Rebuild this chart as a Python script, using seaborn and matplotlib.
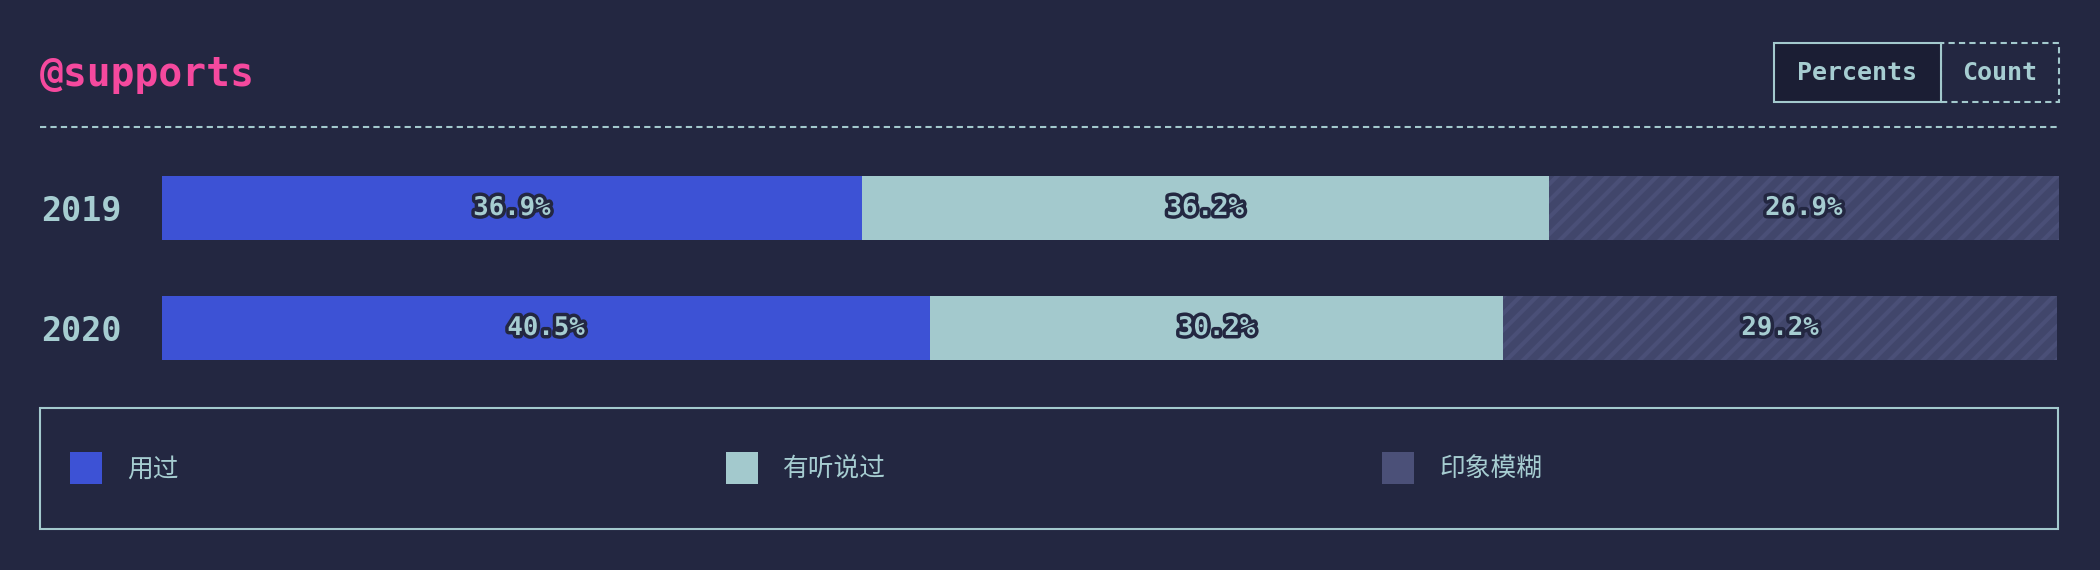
import pandas as pd
import matplotlib.pyplot as plt
import matplotlib.patheffects as pe
from matplotlib.patches import Rectangle
from matplotlib.lines import Line2D
import seaborn as sns

# data
years = ["2019", "2020"]
used = [36.9, 40.5]
heard = [36.2, 30.2]
vague = [26.9, 29.2]
series_names = ["用过", "有听说过", "印象模糊"]
title = "@supports"
buttons = ["Percents", "Count"]

BG = "#232741"
BLUE = "#3d52d5"
TEAL = "#a3c9cd"
GREY = "#41466b"
STRIPE = "#4a4f77"
LEGEND_GREY = "#4b5078"
PINK = "#f5499e"
TEXT = "#a6cdd1"
BTN_BG = "#1b1e34"

W, H = 2100, 570


def fx(px):
    return px / W


def fy(py):
    return 1 - py / H


sns.set_theme(style="white")
plt.rcParams["font.family"] = ["DejaVu Sans Mono", "Noto Sans CJK SC"]
plt.rcParams["hatch.linewidth"] = 3

fig = plt.figure(figsize=(21, 5.7), dpi=100, facecolor=BG)

df = pd.DataFrame({
    "year": years,
    "used": used,
    "heard": heard,
    "vague": vague
})
df["c1"] = df["used"]
df["c2"] = df["c1"] + df["heard"]
df["c3"] = df["c2"] + df["vague"]

ax = fig.add_axes([fx(162), fy(388), fx(2059) - fx(162), 240 / H])
ax.set_facecolor(BG)

# stacked bars: draw cumulative totals, widest first
common = dict(
    y="year",
    orient="h",
    saturation=1,
    width=0.533,
    errorbar=None,
    linewidth=0,
    ax=ax
)
sns.barplot(data=df, x="c3", color=GREY, hatch="//", edgecolor=STRIPE, **common)
sns.barplot(data=df, x="c2", color=TEAL, edgecolor=TEAL, **common)
sns.barplot(data=df, x="c1", color=BLUE, edgecolor=BLUE, **common)

ax.set_xlim(0, 100)
ax.set_xticks([])
ax.set_xlabel("")
ax.set_ylabel("")
sns.despine(ax=ax, left=True, bottom=True)
ax.tick_params(axis="y", length=0, pad=29, labelsize=24, labelcolor=TEXT)
for lbl in ax.get_yticklabels():
    lbl.set_fontweight("bold")

# percentage labels in each segment
stroke = [pe.withStroke(linewidth=5, foreground=BG)]
for i, row in df.iterrows():
    start = 0
    for col in ["used", "heard", "vague"]:
        val = row[col]
        ax.text(
            start + val / 2, i, f"{val:.1f}%",
            ha="center", va="center",
            fontsize=18.5, fontweight="bold",
            color=TEXT, path_effects=stroke
        )
        start += val

# title and divider
fig.text(fx(40), fy(86), title, color=PINK, fontsize=28.5,
         fontweight="bold", va="baseline")
fig.add_artist(Line2D(
    [fx(40), fx(2058)], [fy(127), fy(127)],
    transform=fig.transFigure, color=TEAL, lw=1.5,
    linestyle=(0, (3, 2))
))

# Percents / Count toggle
fig.add_artist(Rectangle(
    (fx(1941), fy(102)), fx(2059) - fx(1941), 59 / H,
    transform=fig.transFigure, fill=False, edgecolor=TEAL,
    lw=1.5, linestyle=(0, (3, 2))
))
fig.add_artist(Rectangle(
    (fx(1774), fy(102)), fx(1941) - fx(1774), 59 / H,
    transform=fig.transFigure, facecolor=BTN_BG, edgecolor=TEAL, lw=1.5
))
fig.text(fx(1857), fy(73), buttons[0], ha="center", va="center",
         fontsize=18, fontweight="bold", color=TEXT)
fig.text(fx(2000), fy(73), buttons[1], ha="center", va="center",
         fontsize=18, fontweight="bold", color=TEXT)

# legend box
fig.add_artist(Rectangle(
    (fx(40), fy(529)), fx(2058) - fx(40), 121 / H,
    transform=fig.transFigure, fill=False, edgecolor=TEAL, lw=1.5
))
legend_colors = [BLUE, TEAL, LEGEND_GREY]
step = 656
for i, (name, c) in enumerate(zip(series_names, legend_colors)):
    x0 = 70 + i * step
    fig.add_artist(Rectangle(
        (fx(x0), fy(484)), 32 / W, 32 / H,
        transform=fig.transFigure, facecolor=c, edgecolor="none"
    ))
    fig.text(fx(x0 + 57), fy(470), name, ha="left", va="center",
             fontsize=18.5, color=TEXT,
             family=["Noto Sans CJK SC", "DejaVu Sans"])

fig.savefig("out.png", dpi=100, facecolor=BG)
